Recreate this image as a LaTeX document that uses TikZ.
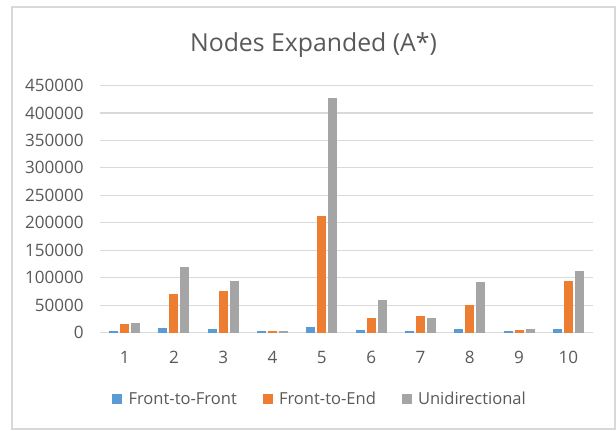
\documentclass[tikz,border=0pt]{standalone}
\usepackage{fontspec}
\setmainfont{Open Sans}
\usepackage{tikz}
\usetikzlibrary{positioning}
\definecolor{ffblue}{RGB}{91,155,213}
\definecolor{feorange}{RGB}{237,125,49}
\definecolor{unigray}{RGB}{165,165,165}
\definecolor{txtgray}{RGB}{89,89,89}
\definecolor{gridgray}{RGB}{217,217,217}
% one category: #1 index, #2-#4 node counts in thousands
\newcommand{\bargroup}[4]{%
  \pgfmathsetmacro{\cx}{100+49.3*(#1-0.5)}
  \fill[ffblue]   ({\cx-15.5},332.5) rectangle ({\cx-6.5},{332.5-#2*0.5488});
  \fill[feorange] ({\cx-4.5},332.5)  rectangle ({\cx+4.5},{332.5-#3*0.5488});
  \fill[unigray]  ({\cx+6.5},332.5)  rectangle ({\cx+15.5},{332.5-#4*0.5488});
  \node[ticklab, anchor=center] (cat#1) at (\cx,357.5) {#1};}
\tikzset{
  chartframe/.style={draw=gridgray, line width=1pt},
  gline/.style={gridgray, line width=0.8pt},
  ticklab/.style={font=\fontsize{12.8}{15}\selectfont, text=txtgray, inner sep=0pt},
  ttl/.style={font=\fontsize{18.6}{22}\selectfont, text=txtgray, inner sep=0pt},
  legsq/.style={minimum size=7.5pt, inner sep=0pt},
  legtxt/.style={ticklab, font=\fontsize{12.4}{15}\selectfont},
}

\begin{document}
\begin{tikzpicture}[x=0.75pt, y=-0.75pt]
\useasboundingbox (0,0) rectangle (616,430);
\draw[chartframe] (12,7) rectangle (615,429);
\node[ttl, anchor=base] (title) at (313.5,51.7) {Nodes Expanded (A*)};
% value axis and grid, one line per 50000
\foreach \k/\lab in {0/0,1/50000,2/100000,3/150000,4/200000,5/250000,6/300000,7/350000,8/400000,9/450000} {
  \pgfmathsetmacro{\gy}{332.5-\k*27.44}
  \draw[gline] (100,\gy) -- (593,\gy);
  \node[ticklab, anchor=east] (ytick\k) at (84,\gy) {\lab};
}
% bars
\bargroup{1}{2}{15.7}{17.5}
\bargroup{2}{7.9}{70.1}{119.1}
\bargroup{3}{6}{75.6}{93.7}
\bargroup{4}{2}{2}{2}
\bargroup{5}{9.7}{211.6}{426.8}
\bargroup{6}{4.2}{26}{58.6}
\bargroup{7}{2.4}{30.2}{26}
\bargroup{8}{6}{50.2}{91.3}
\bargroup{9}{2}{4.2}{6}
\bargroup{10}{6}{93.7}{111.9}
% legend
\node[legsq, fill=ffblue] (legff) at (117,398.5) {};
\node[legtxt, right=4.5pt of legff] (legfftxt) {Front-to-Front};
\node[legsq, fill=feorange] (legfe) at (267.5,398.5) {};
\node[legtxt, right=4.5pt of legfe] (legfetxt) {Front-to-End};
\node[legsq, fill=unigray] (leguni) at (406.5,398.5) {};
\node[legtxt, right=4.5pt of leguni] (legunitxt) {Unidirectional};
\end{tikzpicture}
\end{document}
